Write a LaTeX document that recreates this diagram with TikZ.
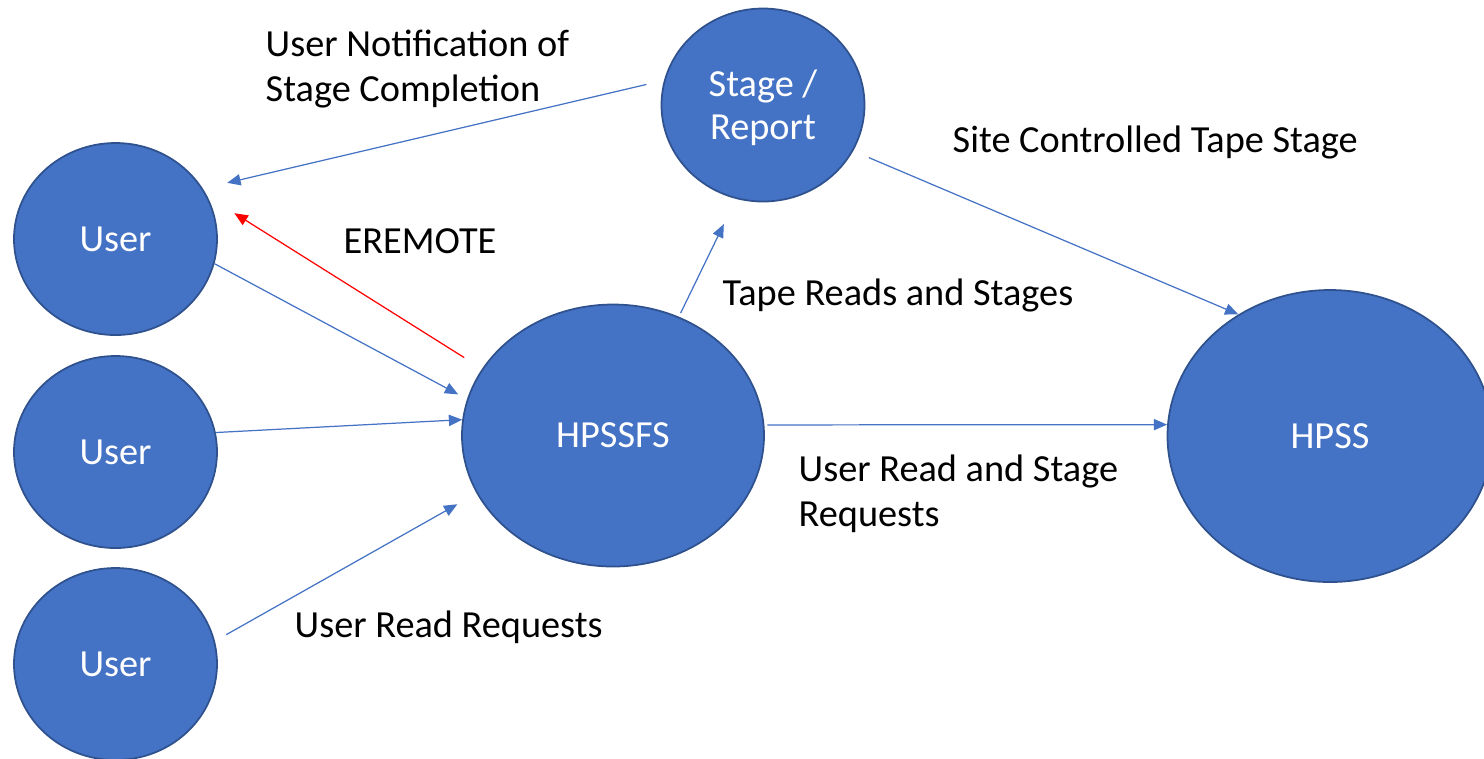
\documentclass[tikz,border=0pt]{standalone}
\usepackage{fontspec}
\setmainfont{Carlito}
\usetikzlibrary{shapes.geometric,arrows.meta}
\definecolor{azul}{HTML}{4472C4}
\definecolor{borde}{HTML}{2F528F}

\begin{document}
\begin{tikzpicture}[scale=1,
    every node/.style={font=\fontsize{10.9}{12.8}\selectfont},
    nodo/.style={ellipse, draw=borde, line width=0.5pt, fill=azul,
      text=white, inner sep=0pt, text depth=-1.7pt},
    usuario/.style={nodo, minimum width=2.03cm, minimum height=1.92cm},
    flecha/.style={draw=azul, line width=0.35pt,
      -{Triangle[length=3.8pt, width=3.2pt]}},
    etiqueta/.style={anchor=base west, inner sep=0pt, align=left}]

    \useasboundingbox (0, 0) rectangle (14.84, -7.58);

    % Nodos
    \node[usuario] (user1) at (1.155, -2.39) {User};
    \node[usuario] (user2) at (1.155, -4.52) {User};
    \node[usuario] (user3) at (1.155, -6.64) {User};
    \node[nodo, minimum width=3.02cm, minimum height=2.62cm]
      (hpssfs) at (6.13, -4.355) {HPSSFS};
    \node[nodo, minimum width=2.03cm, minimum height=1.93cm, align=center]
      (stage) at (7.63, -1.05) {\raisebox{-0.6pt}{Stage /}\\Report};
    \node[nodo, minimum width=3.25cm, minimum height=2.92cm, text depth=-2.2pt]
      (hpss) at (13.30, -4.36) {HPSS};

    % Flechas
    \draw[flecha, shorten <=1.8mm, shorten >=2.5mm] (stage.166.8) -- (user1.30.8);
    \draw[flecha, draw=red, shorten <=2.1mm, shorten >=3.2mm] (hpssfs.153.9) -- (user1.25.7);
    \draw[flecha, shorten >=1mm] (user1.-14.9) -- (hpssfs.166.4);
    \draw[flecha] (user2.11.3) -- (hpssfs.174.7);
    \draw[flecha, shorten <=1.3mm, shorten >=2.2mm] (user3.13.6) -- (hpssfs.-157.5);
    \draw[flecha, shorten <=0.4mm, shorten >=2.8mm] (hpssfs.61.6) -- (stage.-106.8);
    \draw[flecha, shorten <=1.7mm] (stage.-27.4) -- (hpss.127.3);
    \draw[flecha, shorten <=0.3mm] (hpssfs.4.75) -- (hpss.176.7);

    % Etiquetas
    \node[etiqueta] (notif) at (2.65, -1.017) {User Notification of\\Stage Completion};
    \node[etiqueta] (eremote) at (3.43, -2.535) {EREMOTE};
    \node[etiqueta] (tape) at (7.22, -3.05) {Tape Reads and Stages};
    \node[etiqueta] (site) at (9.52, -1.52) {Site Controlled Tape Stage};
    \node[etiqueta] (userstage) at (7.98, -5.267) {User Read and Stage\\Requests};
    \node[etiqueta] (userread) at (2.94, -6.37) {User Read Requests};

  \end{tikzpicture}
\end{document}
